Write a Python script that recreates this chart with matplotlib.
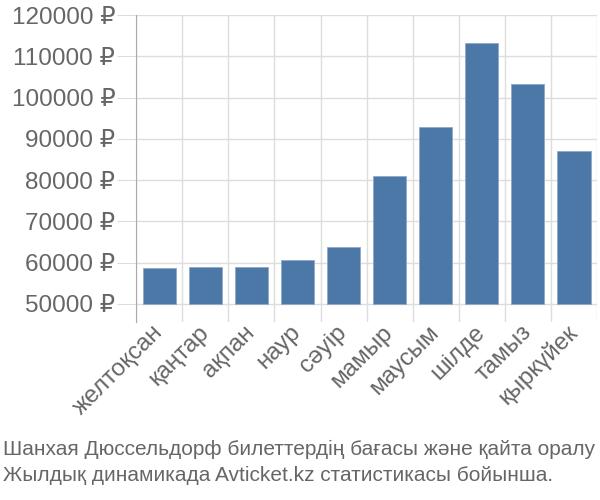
import matplotlib
matplotlib.use("Agg")
import matplotlib.pyplot as plt
import matplotlib.ticker as mticks

months = ["желтоқсан", "қаңтар", "ақпан", "наур", "сәуір",
          "мамыр", "маусым", "шілде", "тамыз", "қыркүйек"]
prices = [58800, 58950, 58900, 60650, 63700,
          81000, 92800, 113100, 103200, 87000]
yticks = [50000, 60000, 70000, 80000, 90000, 100000, 110000, 120000]
caption = ("Шанхая Дюссельдорф билеттердің бағасы және қайта оралу\n"
           "Жылдық динамикада Avticket.kz статистикасы бойынша.")

plt.rcParams['font.family'] = ['Liberation Sans', 'DejaVu Sans']
txt = "#666666"
grid = "#dddddd"
base = 50000

fig = plt.figure(figsize=(6, 5), dpi=100)
ax = fig.add_axes([0.227, 0.356, 0.768, 0.614])

x = range(len(months))
ax.bar(x, [p - base for p in prices], bottom=base, width=0.72,
       color="#4c78a8", edgecolor="#8fa9c8", linewidth=0.6, zorder=3)

ax.set_xlim(-0.5, len(months) - 0.5)
ax.set_ylim(45600, 120000)
ax.set_yticks(yticks)
ax.yaxis.set_major_formatter(mticks.FuncFormatter(lambda v, p: f"{int(v)} ₽"))
ax.set_xticks(list(x))
ax.set_xticklabels(months, rotation=45, ha="right", va="center", rotation_mode="anchor")
ax.xaxis.set_minor_locator(mticks.FixedLocator([i + 0.5 for i in range(-1, len(months))]))

ax.grid(axis="y", which="major", color=grid, linewidth=1, zorder=0)
ax.grid(axis="x", which="minor", color=grid, linewidth=1, zorder=0)
ax.tick_params(axis="y", length=14, color=grid, labelsize=17.5, labelcolor=txt, pad=1)
ax.tick_params(axis="x", which="major", length=0, labelsize=17.5, labelcolor=txt, pad=5)
ax.tick_params(axis="x", which="minor", length=0)
for s in ["top", "right", "bottom"]:
    ax.spines[s].set_visible(False)
ax.spines["left"].set_color("#aaaaaa")

fig.text(0.005, 0.03, caption, fontsize=15, color=txt, ha="left", va="bottom",
         linespacing=1.45)

fig.savefig("out.png", dpi=100)
